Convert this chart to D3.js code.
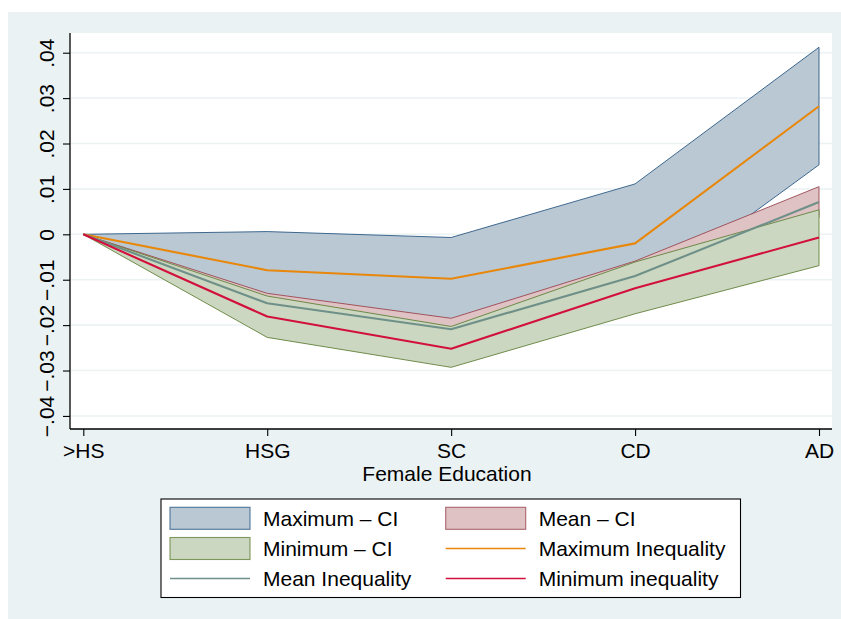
<!DOCTYPE html>
<html>
<head>
<meta charset="utf-8">
<script src="https://cdn.jsdelivr.net/npm/d3@7"></script>
<style>
  html, body { margin: 0; padding: 0; background: #ffffff; }
  svg { display: block; }
  text { font-family: "Liberation Sans", Arial, Helvetica, sans-serif; fill: #000; }
</style>
</head>
<body>
<svg id="chart" width="841" height="619"></svg>
<script>
// Education levels on the x axis
const categories = [">HS", "HSG", "SC", "CD", "AD"];

// Confidence bands (lower / upper)
const maxCILower = [0, -0.0140, -0.0195, -0.0143, 0.0153];
const maxCIUpper = [0, 0.0006, -0.0007, 0.0111, 0.0412];
const meanCILower = [0, -0.0177, -0.0233, -0.0125, 0.0037];
const meanCIUpper = [0, -0.0130, -0.0185, -0.0059, 0.0105];
const minCILower = [0, -0.0227, -0.0293, -0.0175, -0.0069];
const minCIUpper = [0, -0.0136, -0.0203, -0.0061, 0.0054];

// Point estimates
const maxIneq = [0, -0.0079, -0.0098, -0.0020, 0.0282];
const meanIneq = [0, -0.0152, -0.0209, -0.0092, 0.0071];
const minIneq = [0, -0.0181, -0.0252, -0.0119, -0.0007];

// Axis ticks
const yTicks = [-0.04, -0.03, -0.02, -0.01, 0, 0.01, 0.02, 0.03, 0.04];
const yTickLabels = ["\u2212.04", "\u2212.03", "\u2212.02", "\u2212.01", "0", ".01", ".02", ".03", ".04"];
const xTitle = "Female Education";

const FONT_SIZE = 21;

const svg = d3.select("#chart");

// Outer graph region
svg.append("rect")
  .attr("x", 8).attr("y", 12).attr("width", 833).attr("height", 607)
  .attr("fill", "#eaf2f3");

// Plot region
const plot = { left: 70, right: 832, top: 33, bottom: 429 };
svg.append("rect")
  .attr("x", plot.left).attr("y", plot.top)
  .attr("width", plot.right - plot.left).attr("height", plot.bottom - plot.top)
  .attr("fill", "#ffffff");

const x = d3.scalePoint().domain(categories).range([83.3, 819]).padding(0);
const y = d3.scaleLinear().domain([-0.04288, 0.04434]).range([plot.bottom, plot.top]);

// Gridlines
svg.append("g")
  .selectAll("line")
  .data(yTicks)
  .join("line")
  .attr("x1", plot.left).attr("x2", plot.right)
  .attr("y1", d => y(d)).attr("y2", d => y(d))
  .attr("stroke", "#eaf2f3").attr("stroke-width", 1.5);

// Bands
const bands = [
  { lower: maxCILower, upper: maxCIUpper, fill: "#bac8d4", stroke: "#2c5a84", label: "Maximum \u2013 CI" },
  { lower: meanCILower, upper: meanCIUpper, fill: "#dec2c4", stroke: "#9a4750", label: "Mean \u2013 CI" },
  { lower: minCILower, upper: minCIUpper, fill: "#ccd7c1", stroke: "#62813a", label: "Minimum \u2013 CI" }
];

const area = d3.area()
  .x(d => x(d.c))
  .y0(d => y(d.lo))
  .y1(d => y(d.hi));

bands.forEach(b => {
  const pts = categories.map((c, i) => ({ c, lo: b.lower[i], hi: b.upper[i] }));
  svg.append("path")
    .attr("d", area(pts))
    .attr("fill", b.fill)
    .attr("stroke", b.stroke)
    .attr("stroke-width", 0.9)
    .attr("stroke-linejoin", "miter");
});

// Lines
const lines = [
  { values: maxIneq, color: "#e8870a", label: "Maximum Inequality" },
  { values: meanIneq, color: "#6e9088", label: "Mean Inequality" },
  { values: minIneq, color: "#d2103c", label: "Minimum inequality" }
];

const line = d3.line().x((d, i) => x(categories[i])).y(d => y(d));

lines.forEach(l => {
  svg.append("path")
    .attr("d", line(l.values))
    .attr("fill", "none")
    .attr("stroke", l.color)
    .attr("stroke-width", 2.1)
    .attr("stroke-linejoin", "round");
});

// Y axis
const yAxis = d3.axisLeft(y)
  .tickValues(yTicks)
  .tickFormat((d, i) => yTickLabels[i])
  .tickSize(7)
  .tickSizeOuter(0);

const gy = svg.append("g")
  .attr("transform", `translate(${plot.left},0)`)
  .call(yAxis);
gy.select(".domain").attr("d", `M0,${plot.top}V${plot.bottom}`).attr("stroke", "#000").attr("stroke-width", 1.3);
gy.selectAll(".tick line").attr("stroke", "#000").attr("stroke-width", 1.1);
gy.selectAll(".tick text")
  .attr("x", null).attr("dy", null)
  .attr("transform", "translate(-16.5,0) rotate(-90)")
  .attr("text-anchor", "middle")
  .attr("font-size", FONT_SIZE)
  .style("font-family", "'Liberation Sans', Arial, sans-serif");

// X axis
const xAxis = d3.axisBottom(x).tickSize(7).tickSizeOuter(0).tickPadding(4);
const gx = svg.append("g")
  .attr("transform", `translate(0,${plot.bottom})`)
  .call(xAxis);
gx.select(".domain").attr("d", `M${plot.left},0H${plot.right}`).attr("stroke", "#000").attr("stroke-width", 1.3);
gx.selectAll(".tick line").attr("stroke", "#000").attr("stroke-width", 1.1);
gx.selectAll(".tick text")
  .attr("dy", null).attr("y", 29)
  .attr("font-size", FONT_SIZE)
  .style("font-family", "'Liberation Sans', Arial, sans-serif");

svg.append("text")
  .attr("x", 447).attr("y", 481)
  .attr("text-anchor", "middle")
  .attr("font-size", FONT_SIZE)
  .text(xTitle);

// Legend
const legend = svg.append("g");
legend.append("rect")
  .attr("x", 161).attr("y", 499).attr("width", 579.5).attr("height", 98.5)
  .attr("fill", "#ffffff").attr("stroke", "#000").attr("stroke-width", 1.1);

const legendItems = [
  { type: "area", fill: bands[0].fill, stroke: bands[0].stroke, label: bands[0].label },
  { type: "area", fill: bands[1].fill, stroke: bands[1].stroke, label: bands[1].label },
  { type: "area", fill: bands[2].fill, stroke: bands[2].stroke, label: bands[2].label },
  { type: "line", stroke: lines[0].color, label: lines[0].label },
  { type: "line", stroke: lines[1].color, label: lines[1].label },
  { type: "line", stroke: lines[2].color, label: lines[2].label }
];

const colX = [170, 445.7];
const keyW = 80;
const rowY = [518.3, 548.5, 578.5];

legendItems.forEach((it, i) => {
  const col = i % 2, row = Math.floor(i / 2);
  const kx = colX[col], cy = rowY[row];
  if (it.type === "area") {
    legend.append("rect")
      .attr("x", kx).attr("y", cy - 11).attr("width", keyW).attr("height", 22)
      .attr("fill", it.fill).attr("stroke", it.stroke).attr("stroke-width", 1.1)
      .attr("stroke-opacity", 0.8);
  } else {
    legend.append("line")
      .attr("x1", kx).attr("x2", kx + keyW)
      .attr("y1", cy).attr("y2", cy)
      .attr("stroke", it.stroke).attr("stroke-width", 1.6);
  }
  legend.append("text")
    .attr("x", kx + 93).attr("y", cy + 7.4)
    .attr("font-size", FONT_SIZE)
    .text(it.label);
});
</script>
</body>
</html>
